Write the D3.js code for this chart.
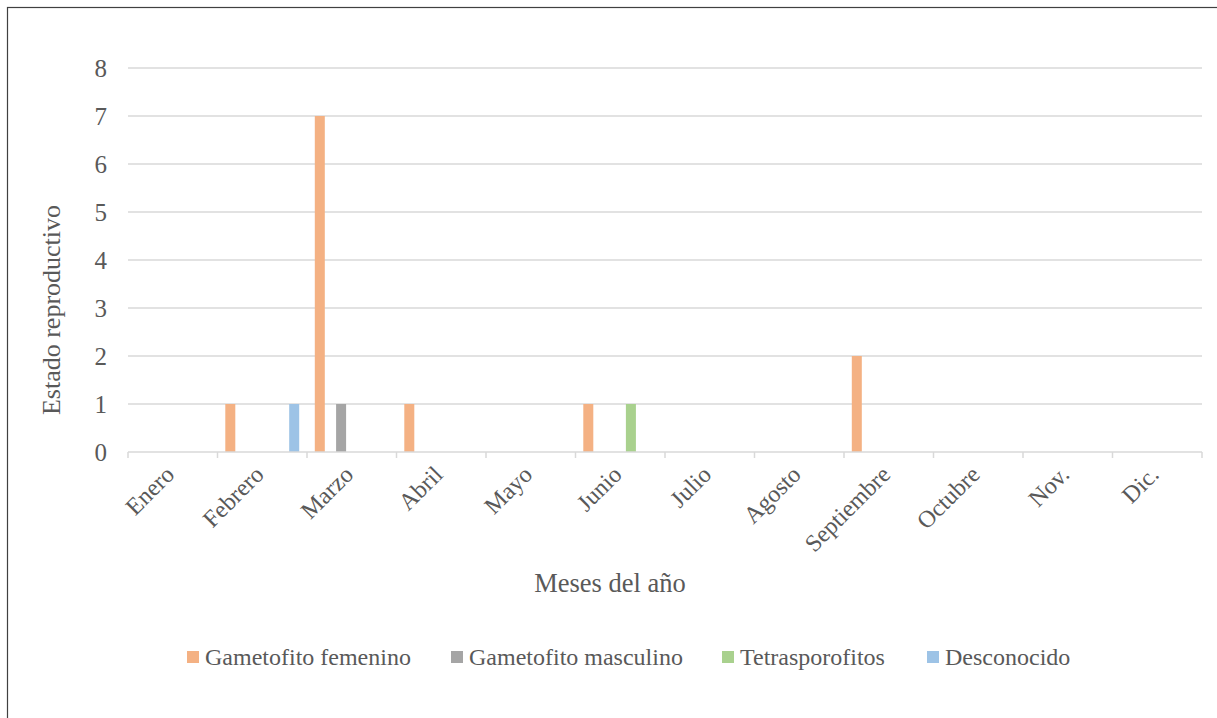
<!DOCTYPE html>
<html>
<head>
<meta charset="utf-8">
<script src="https://cdn.jsdelivr.net/npm/d3@7"></script>
<style>
  body { margin: 0; background: #fff; }
  text { font-family: "Liberation Serif", "Times New Roman", serif; fill: #595959; }
</style>
</head>
<body>
<svg id="chart" width="1217" height="718"></svg>
<script>
// months on the x axis
const months = ["Enero", "Febrero", "Marzo", "Abril", "Mayo", "Junio", "Julio",
  "Agosto", "Septiembre", "Octubre", "Nov.", "Dic."];
const seriesNames = ["Gametofito femenino", "Gametofito masculino", "Tetrasporofitos", "Desconocido"];
const seriesColors = ["#F4B183", "#A5A5A5", "#A9D18E", "#9DC3E6"];

// values per series, one per month
const femenino  = [0, 1, 7, 1, 0, 1, 0, 0, 2, 0, 0, 0];
const masculino = [0, 0, 1, 0, 0, 0, 0, 0, 0, 0, 0, 0];
const tetra     = [0, 0, 0, 0, 0, 1, 0, 0, 0, 0, 0, 0];
const descon    = [0, 1, 0, 0, 0, 0, 0, 0, 0, 0, 0, 0];
const yTicks = [0, 1, 2, 3, 4, 5, 6, 7, 8];

const allSeries = [femenino, masculino, tetra, descon];

const svg = d3.select("#chart");
const plotLeft = 128, plotRight = 1202, plotTop = 68, plotBottom = 452;

// outer frame
svg.append("rect")
  .attr("x", 7.5).attr("y", 7.5)
  .attr("width", 1230).attr("height", 730)
  .attr("fill", "none").attr("stroke", "#404040").attr("stroke-width", 1.2);

const x0 = d3.scaleBand().domain(months).range([plotLeft, plotRight]).padding(0);
const x1 = d3.scaleBand().domain(seriesNames).range([0, x0.bandwidth()])
  .paddingInner(0.53).paddingOuter(0.366);
const y = d3.scaleLinear().domain([0, 8]).range([plotBottom, plotTop]);

// gridlines
svg.append("g").selectAll("line").data(yTicks.slice(1)).join("line")
  .attr("x1", plotLeft).attr("x2", plotRight)
  .attr("y1", d => y(d)).attr("y2", d => y(d))
  .attr("stroke", "#d9d9d9").attr("stroke-width", 1.5);

// y tick labels
svg.append("g").selectAll("text").data(yTicks).join("text")
  .attr("x", 107).attr("y", d => y(d))
  .attr("dy", "0.35em")
  .attr("text-anchor", "end")
  .style("font-size", "25px")
  .text(d => d);

// bars
seriesNames.forEach((name, i) => {
  svg.append("g").selectAll("rect").data(allSeries[i]).join("rect")
    .attr("x", (d, j) => x0(months[j]) + x1(name))
    .attr("y", d => y(d))
    .attr("width", x1.bandwidth())
    .attr("height", d => y(0) - y(d))
    .attr("fill", seriesColors[i]);
});

// x axis line + ticks at category boundaries
const xAxis = svg.append("g");
xAxis.append("line")
  .attr("x1", plotLeft).attr("x2", plotRight)
  .attr("y1", plotBottom).attr("y2", plotBottom)
  .attr("stroke", "#d9d9d9").attr("stroke-width", 1.5);
const bounds = months.map(m => x0(m)).concat([plotRight]);
xAxis.selectAll("line.tick").data(bounds).join("line")
  .attr("class", "tick")
  .attr("x1", d => d).attr("x2", d => d)
  .attr("y1", plotBottom).attr("y2", plotBottom + 6)
  .attr("stroke", "#d9d9d9").attr("stroke-width", 1.5);

// x labels, rotated
svg.append("g").selectAll("text").data(months).join("text")
  .attr("transform", d => `translate(${x0(d) + x0.bandwidth() / 2 - 3},${plotBottom + 18}) rotate(-45)`)
  .attr("text-anchor", "end")
  .attr("dy", "0.35em")
  .style("font-size", "24px")
  .text(d => d);

// axis titles
svg.append("text")
  .attr("transform", "translate(60,310) rotate(-90)")
  .attr("text-anchor", "middle")
  .style("font-size", "26px")
  .text("Estado reproductivo");

svg.append("text")
  .attr("x", 610).attr("y", 592)
  .attr("text-anchor", "middle")
  .style("font-size", "26.5px")
  .text("Meses del año");

// legend
const legendX = [187, 451, 722, 927];
const legend = svg.append("g").selectAll("g").data(seriesNames).join("g")
  .attr("transform", (d, i) => `translate(${legendX[i]},651)`);
legend.append("rect")
  .attr("width", 12).attr("height", 12)
  .attr("fill", (d, i) => seriesColors[i]);
legend.append("text")
  .attr("x", 18).attr("y", 6)
  .attr("dy", "0.35em")
  .style("font-size", "24px")
  .text(d => d);
</script>
</body>
</html>
